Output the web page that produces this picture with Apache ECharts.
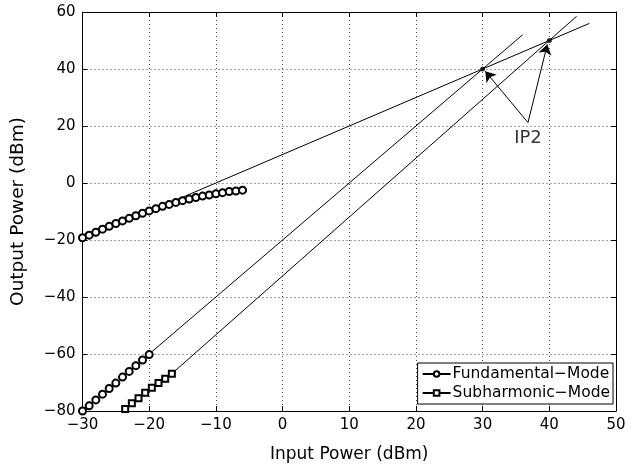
<!DOCTYPE html>
<html>
<head>
<meta charset="utf-8">
<script src="https://cdn.jsdelivr.net/npm/echarts@6/dist/echarts.min.js"></script>
<style>html,body{margin:0;padding:0;background:#fff;}#c{width:633px;height:469px;}</style>
</head>
<body>
<div id="c"></div>
<script>
// ---- data ----
const fundX = [-30,-29,-28,-27,-26,-25,-24,-23,-22,-21,-20,-19,-18,-17,-16,-15,-14,-13,-12,-11,-10,-9,-8,-7,-6];
const fundY = [-19.2,-18.3,-17.3,-16.2,-15.2,-14.2,-13.3,-12.4,-11.5,-10.6,-9.8,-9.0,-8.2,-7.5,-6.8,-6.2,-5.6,-5.1,-4.6,-4.2,-3.8,-3.4,-3.0,-2.8,-2.5];
const fund2X = [-30,-29,-28,-27,-26,-25,-24,-23,-22,-21,-20];
const fund2Y = [-80,-78.2,-76.1,-74.1,-72.1,-70.2,-68.1,-66.1,-64.1,-62.1,-60.2];
const subX = [-23.6,-22.6,-21.6,-20.6,-19.6,-18.6,-17.6,-16.6];
const subY = [-79.3,-77.3,-75.5,-73.6,-71.8,-70.2,-68.7,-66.9];
const fundLine = [[-21,-11],[46,56]];
const fund2Line = [[-20,-60],[36,52]];
const subLine = [[-16.6,-66.9],[44.1,58.5]];
const ipPoints = [[30,40],[40,50]];
const arrowTail = [36.8,21.2];
const arrowHeads = [[30.4,39.2],[39.7,48.6]];
const ipLabel = [36.8,15.6];
const xTicks = {min:-30, max:50, step:10};
const yTicks = {min:-80, max:60, step:20};
const legendNames = ['Fundamental\u2212Mode','Subharmonic\u2212Mode'];

const font = 'DejaVu Sans';
const minus = v => String(v).replace('-', '\u2212');
const zip = (a,b) => a.map((v,i)=>[v,b[i]]);

const chart = echarts.init(document.getElementById('c'));
const baseAxis = (t) => ({
  type:'value', min:t.min, max:t.max, interval:t.step,
  axisLine:{show:true, onZero:false, lineStyle:{color:'#000', width:1}},
  axisTick:{show:true, inside:true, length:5, lineStyle:{color:'#000'}},
  axisLabel:{color:'#000', fontSize:15, fontFamily:font, formatter:minus},
});
const markerSeries = (name, x, y, sym, size) => ({
  name, type:'line', data:zip(x,y), symbol:sym, symbolSize:size, showSymbol:true,
  lineStyle:{color:'#000', width:1}, itemStyle:{color:'#fff', borderColor:'#000', borderWidth:2},
  z:5, animation:false
});
const plainLine = (d) => ({type:'line', data:d, symbol:'none', lineStyle:{color:'#000', width:1}, z:3, animation:false, silent:true});

chart.setOption({
  animation:false,
  grid:{left:82.5, right:17, top:12, bottom:58, containLabel:false},
  xAxis:[
    Object.assign(baseAxis(xTicks), {position:'bottom', name:'Input Power (dBm)', nameLocation:'middle', nameGap:35,
      nameTextStyle:{color:'#000', fontSize:17, fontFamily:font}, axisLabel:{color:'#000', fontSize:15, fontFamily:font, formatter:minus, margin:7},
      splitLine:{show:true, lineStyle:{color:'#444', type:[1,3], width:1}}}),
    Object.assign(baseAxis(xTicks), {position:'top', axisLabel:{show:false}, splitLine:{show:false}})
  ],
  yAxis:[
    Object.assign(baseAxis(yTicks), {position:'left', name:'Output Power (dBm)', nameLocation:'middle', nameGap:55,
      nameTextStyle:{color:'#000', fontSize:18.5, fontFamily:font}, axisLabel:{color:'#000', fontSize:15, fontFamily:font, formatter:minus, margin:7},
      splitLine:{show:true, lineStyle:{color:'#444', type:[1,3], width:1}}}),
    Object.assign(baseAxis(yTicks), {position:'right', axisLabel:{show:false}, splitLine:{show:false}})
  ],
  legend:{
    data:legendNames, orient:'vertical', right:20, top:363,
    backgroundColor:'#fff', borderColor:'#000', borderWidth:1, borderRadius:0,
    padding:[3,3,3,4], itemGap:3, itemWidth:28, itemHeight:7,
    textStyle:{color:'#000', fontSize:15.5, fontFamily:font, padding:[0,0,0,-3]}, selectedMode:false
  },
  series:[
    plainLine(fundLine),
    plainLine(fund2Line),
    plainLine(subLine),
    markerSeries(legendNames[0], fundX, fundY, 'circle', 7),
    markerSeries(legendNames[0], fund2X, fund2Y, 'circle', 7),
    markerSeries(legendNames[1], subX, subY, 'rect', 6),
    {type:'scatter', data:ipPoints, symbol:'circle', symbolSize:5, itemStyle:{color:'#000'}, z:6, silent:true},
    {type:'lines', coordinateSystem:'cartesian2d', data:arrowHeads.map(h=>({coords:[arrowTail,h]})),
      symbol:['none','arrow'], symbolSize:[0,10], lineStyle:{color:'#000', width:1, opacity:1}, z:6, silent:true},
    {type:'scatter', data:[ipLabel], symbol:'circle', symbolSize:1, itemStyle:{color:'rgba(0,0,0,0)'}, silent:true, z:7,
      label:{show:true, position:'inside', formatter:'IP2', color:'#000', fontSize:18, fontFamily:font}}
  ]
});
</script>
</body>
</html>
